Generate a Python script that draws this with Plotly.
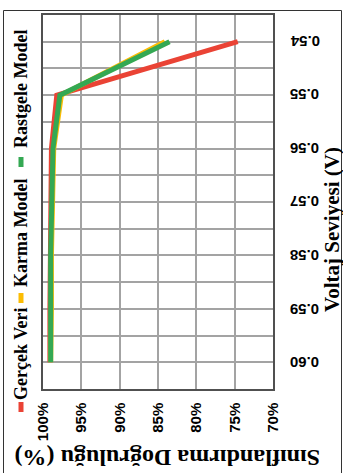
import plotly.graph_objects as go

# Voltage levels (V) and classification accuracy (%) per model
voltaj = [0.54, 0.55, 0.56, 0.57, 0.58, 0.59, 0.60]
gercek_veri = [74.6, 98.2, 98.9, 99.0, 99.1, 99.1, 99.1]
karma_model = [84.1, 97.6, 98.6, 98.8, 98.9, 98.9, 99.0]
rastgele_model = [83.5, 97.8, 98.7, 98.9, 99.0, 99.0, 99.0]

seriler = [
    ("Gerçek Veri", gercek_veri, "#EA4335"),
    ("Karma Model", karma_model, "#FBBC04"),
    ("Rastgele Model", rastgele_model, "#34A853"),
]

yuzde_ticks = [100, 95, 90, 85, 80, 75, 70]
yuzde_etiket = [f"{v}%" for v in yuzde_ticks]
voltaj_etiket = [f"{v:.2f}" for v in voltaj]

W, H = 343, 473
ML, MR, MT, MB = 43, 70, 15, 84
PW, PH = W - ML - MR, H - MT - MB


def px_x(px):
    return (px - ML) / PW


def px_y(py):
    return (H - MB - py) / PH


fig = go.Figure()
for ad, degerler, renk in seriler:
    fig.add_trace(go.Scatter(
        x=degerler, y=voltaj, mode="lines", name=ad,
        line=dict(color=renk, width=5), showlegend=False,
    ))

serif = "Liberation Serif"
sans = "Liberation Sans"
tick_font = dict(family=sans, size=15, color="black", weight="bold")

fig.update_layout(
    width=W, height=H,
    margin=dict(l=ML, r=MR, t=MT, b=MB),
    paper_bgcolor="white", plot_bgcolor="white",
    xaxis=dict(
        range=[100, 70], tickvals=yuzde_ticks, ticktext=yuzde_etiket,
        tickangle=-90, tickfont=tick_font,
        showgrid=True, gridcolor="#a3a3a3", gridwidth=1.5,
        showline=True, linecolor="#505050", linewidth=1.5, mirror=True,
        zeroline=False, ticks="", ticklabelstandoff=6,
    ),
    yaxis=dict(
        range=[0.605, 0.535], side="right", tickvals=voltaj,
        showticklabels=False,
        showgrid=True, gridcolor="#a3a3a3", gridwidth=1.5,
        minor=dict(tick0=0.535, dtick=0.005, showgrid=True, gridcolor="#a3a3a3", gridwidth=1.5),
        showline=True, linecolor="#505050", linewidth=1.5, mirror=True,
        zeroline=False, ticks="",
    ),
)

# Outer frame around the whole graphic
fig.add_shape(type="rect", xref="paper", yref="paper",
              x0=px_x(3.5), x1=px_x(341.5), y0=px_y(490), y1=px_y(10.5),
              line=dict(color="#333333", width=1), fillcolor="rgba(0,0,0,0)")

annotations = [
    dict(text="<b>Voltaj Seviyesi (V)</b>", x=px_x(332), y=px_y(230), textangle=-90,
         font=dict(family=serif, size=21, color="black")),
    dict(text="<b>Sınıflandırma Doğruluğu (%)</b>", x=px_x(168), y=px_y(458), textangle=180,
         font=dict(family=serif, size=24, color="black")),
]

# Upside-down voltage tick labels on the right side
for v, etiket in zip(voltaj, voltaj_etiket):
    annotations.append(dict(text=etiket, x=px_x(305), y=v, yref="y", textangle=180,
                            font=tick_font))

# Rotated legend: marker centre and label centre (pixels along the left edge)
legend_yer = [(407, 354), (298, 233), (162, 89)]
for (ad, _, renk), (my, ty) in zip(seriler, legend_yer):
    fig.add_shape(type="line", xref="paper", yref="paper",
                  x0=px_x(21), x1=px_x(21), y0=px_y(my - 5), y1=px_y(my + 5),
                  line=dict(color=renk, width=5))
    annotations.append(dict(text=f"<b>{ad}</b>", x=px_x(21), y=px_y(ty), textangle=-90,
                            font=dict(family=serif, size=18, color="black")))

for a in annotations:
    a.setdefault("yref", "paper")
    a.update(xref="paper", showarrow=False, xanchor="center", yanchor="middle")
fig.update_layout(annotations=annotations)

fig.write_html("out.html")
